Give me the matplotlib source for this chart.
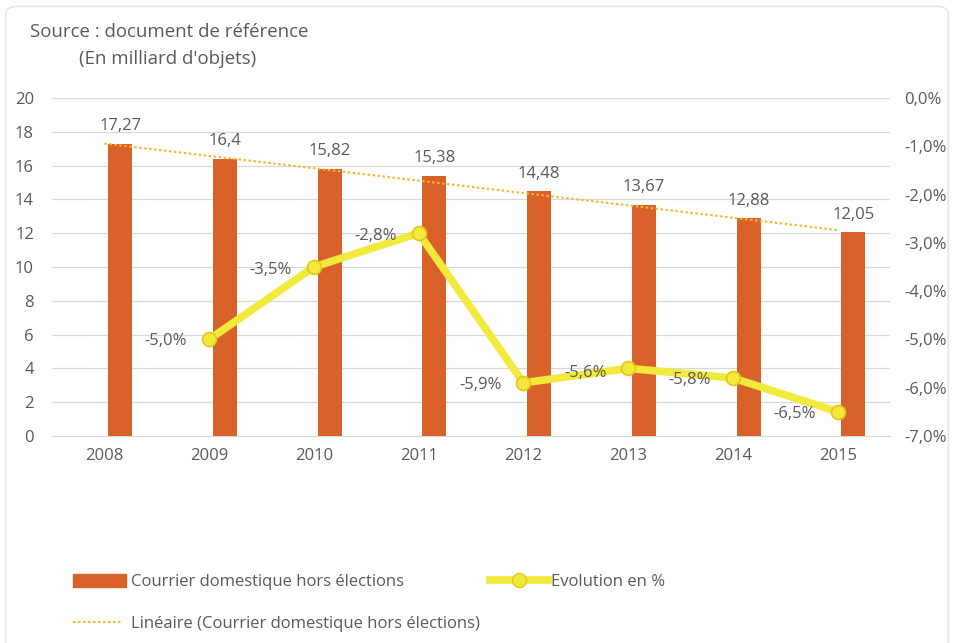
import numpy as np
import matplotlib
matplotlib.use('Agg')
import matplotlib.pyplot as plt
from matplotlib.patches import FancyBboxPatch
from matplotlib.lines import Line2D
from matplotlib.patches import Patch

plt.rcParams['font.family'] = ['Open Sans', 'DejaVu Sans']

years = ['2008', '2009', '2010', '2011', '2012', '2013', '2014', '2015']
courrier = [17.27, 16.4, 15.82, 15.38, 14.48, 13.67, 12.88, 12.05]
evo_years = ['2009', '2010', '2011', '2012', '2013', '2014', '2015']
evolution = [-5.0, -3.5, -2.8, -5.9, -5.6, -5.8, -6.5]
right_ticks = [0, -1, -2, -3, -4, -5, -6, -7]

ORANGE = '#D9622B'
YELLOW = '#F1E93C'
YEDGE = '#E9C414'
TREND = '#F2B92E'
TXT = '#595959'
GRID = '#D9D9D9'
FS = 12
DOTS = (0, (1.2, 1.2))

# offsets (points) of the % labels relative to markers
evo_off = [(-31, -1.5), (-31, -2), (-31, -2), (-31, -1.5), (-31, -3.5), (-31, -1.5), (-31, -1.5)]

fig = plt.figure(figsize=(9.55, 6.43), dpi=100)
fig.patches.append(FancyBboxPatch((0.006, -0.02), 0.987, 1.01, boxstyle='round,pad=0,rounding_size=0.012',
                                  transform=fig.transFigure, fc='white', ec='#E3E3E3', lw=1.0, zorder=-10))
ax = fig.add_axes([0.0545, 0.322, 0.8775, 0.5256])
x = np.arange(len(years))
ax.bar(x + 0.15, courrier, width=0.23, color=ORANGE, zorder=3)
for xi, v in zip(x, courrier):
    ax.annotate(f'{v:g}'.replace('.', ','), xy=(xi + 0.15, v), xytext=(0, 7), textcoords='offset points',
                ha='center', va='bottom', fontsize=FS, color=TXT)

# linear trend of the bar series
p = np.polyfit(x, courrier, 1)
ax.plot(x, np.polyval(p, x), ls=DOTS, color=TREND, lw=1.5, zorder=4)

ax.set_xlim(-0.5, 7.5)
ax.set_ylim(0, 20)
ax.set_yticks(range(0, 21, 2))
ax.set_xticks(x)
ax.set_xticklabels(years)
ax.grid(axis='y', color=GRID, lw=0.9, zorder=0)
for s in ['top', 'right', 'left']:
    ax.spines[s].set_visible(False)
ax.spines['bottom'].set_color(GRID)
ax.tick_params(length=0, labelsize=FS, colors=TXT)
ax.tick_params(axis='x', pad=9)
ax.tick_params(axis='y', pad=13)

ax2 = ax.twinx()
ex = [years.index(y) for y in evo_years]
ax2.plot(ex, evolution, color=YELLOW, lw=5.5, marker='o', ms=10, mfc=YELLOW, mec=YEDGE, mew=1.2,
         solid_joinstyle='round', zorder=5)
for xi, v, (dx, dy) in zip(ex, evolution, evo_off):
    ax2.annotate(f'{v:.1f}%'.replace('.', ','), xy=(xi, v), xytext=(dx, dy), textcoords='offset points',
                 ha='center', va='center', fontsize=FS, color=TXT, zorder=7)
ax2.set_ylim(-7, 0)
ax2.set_yticks(right_ticks)
ax2.set_yticklabels([f'{t:.1f}%'.replace('.', ',') for t in right_ticks])
for s in ['top', 'right', 'left', 'bottom']:
    ax2.spines[s].set_visible(False)
ax2.tick_params(length=0, labelsize=FS, colors=TXT, pad=10)

fig.text(0.031, 0.951, 'Source : document de référence', fontsize=13.4, color=TXT, va='center')
fig.text(0.083, 0.909, "(En milliard d'objets)", fontsize=13.4, color=TXT, va='center')

h1 = Patch(color=ORANGE)
h2 = Line2D([], [], color=YELLOW, lw=5.5, marker='o', ms=10, mfc=YELLOW, mec=YEDGE)
h3 = Line2D([], [], color=TREND, ls=DOTS, lw=1.5)
leg_kw = dict(loc='center left', frameon=False, fontsize=FS, labelcolor=TXT, borderpad=0, borderaxespad=0)
fig.legend([h1], ['Courrier domestique hors élections'], bbox_to_anchor=(0.0764, 0.095),
           handlelength=3.2, handleheight=0.8, handletextpad=0.3, **leg_kw)
fig.legend([h2], ['Evolution en %'], bbox_to_anchor=(0.513, 0.095),
           handlelength=3.5, handletextpad=0.15, **leg_kw)
fig.legend([h3], ['Linéaire (Courrier domestique hors élections)'], bbox_to_anchor=(0.0764, 0.030),
           handlelength=2.9, handletextpad=0.6, **leg_kw)

fig.savefig('out.png', dpi=100)
